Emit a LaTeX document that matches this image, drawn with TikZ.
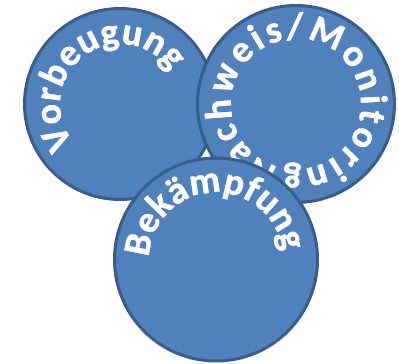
\documentclass[tikz,border=0pt]{standalone}
\usepackage{fontspec}
\setmainfont{Carlito}[BoldFeatures={FakeBold=1.2}]
\usetikzlibrary{decorations.text}
\definecolor{kreisfill}{HTML}{4F81BD}
\definecolor{kreisrand}{HTML}{385D8A}
\tikzset{
  kreis/.style={circle, draw=kreisrand, fill=kreisfill, line width=3pt, inner sep=0pt},
  bogentext/.style={decorate, decoration={text along path, text align={fit to path}, text color=white,
      text={|\fontsize{38}{38}\selectfont\bfseries|#1}}}
}
\begin{document}
\begin{tikzpicture}[x=1pt, y=1pt]
    \useasboundingbox (0,0) rectangle (399,364);

    % Vorbeugung (links oben)
    \node[kreis, minimum size=191pt] (vorbeugung) at (120,260) {};
    \path[bogentext=Vorbeugung] ([shift={(220:60pt)}]vorbeugung.center)
        arc[start angle=220, end angle=33, radius=60pt];

    % Nachweis/Monitoring (rechts oben)
    \node[kreis, minimum size=197pt] (nachweis) at (296,260) {};
    \path[bogentext=Nachweis/Monitoring] ([shift={(254:65pt)}]nachweis.center)
        arc[start angle=254, end angle=-101, radius=65pt];

    % Bekämpfung (unten)
    \node[kreis, minimum size=203pt] (bekaempfung) at (216,104.5) {};
    \path[bogentext=Bekämpfung] ([shift={(178:67pt)}]bekaempfung.center)
        arc[start angle=178, end angle=7, radius=67pt];
\end{tikzpicture}
\end{document}
